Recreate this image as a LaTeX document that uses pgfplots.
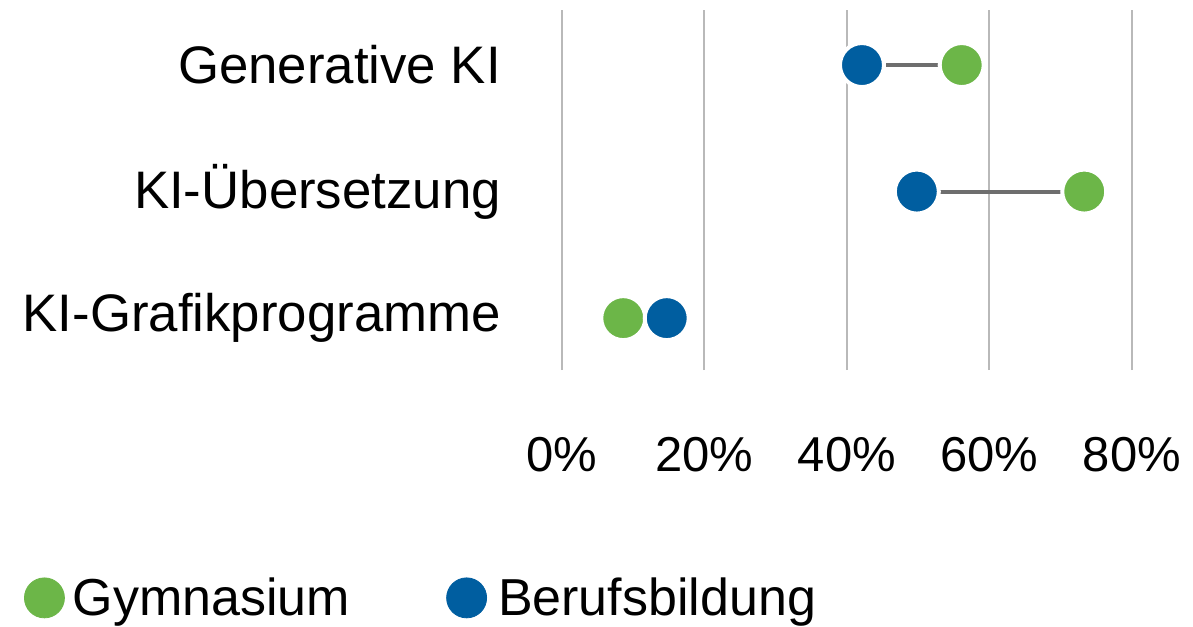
\documentclass[border=0pt]{standalone}
\usepackage{pgfplots}
\pgfplotsset{compat=1.18}
\usepackage{fontspec}
\setmainfont{Liberation Sans}
\definecolor{gym}{RGB}{108,182,72}
\definecolor{bb}{RGB}{0,94,160}
\definecolor{conn}{RGB}{110,110,110}
\definecolor{gridc}{RGB}{185,185,185}
\begin{document}
\begin{tikzpicture}
\begin{axis}[
  name=ax,
  scale only axis,
  width=285pt, height=180pt,
  xmin=0, xmax=80, ymin=-0.41, ymax=2.435,
  axis line style={draw=none},
  xtick={0,20,40,60,80},
  ytick={0,1,2},
  yticklabels={KI-Grafikprogramme,KI-Übersetzung,Generative KI},
  major tick length=0pt,
  xmajorgrids,
  grid style={gridc, line width=1pt},
  xticklabel={\pgfmathprintnumber{\tick}\%},
  /pgf/number format/assume math mode=true,
  xticklabel style={font=\fontsize{24.5}{30}\selectfont, yshift=-30pt},
  yticklabel style={font=\fontsize{26.4}{31}\selectfont, xshift=-27pt},
  clip=false,
  legend style={at={(axis description cs:-0.955,-0.633)}, anchor=west, draw=none,
    font=\fontsize{26}{31}\selectfont, legend columns=2,
    /tikz/every even column/.append style={column sep=46pt}},
]
\addplot[conn, line width=2pt, forget plot] coordinates {(42.1,2) (56.1,2)};
\addplot[conn, line width=2pt, forget plot] coordinates {(49.8,1) (73.3,1)};
\addplot[only marks, mark=*, mark size=11pt, mark options={fill=gym, draw=white, line width=2pt},
  legend image code/.code={\fill[gym] (0pt,0pt) circle (10pt); \path (12pt,0pt);}] coordinates {
  (56.1,2) (73.3,1) (8.6,0)
};
\addlegendentry{Gymnasium}
\addplot[only marks, mark=*, mark size=11pt, mark options={fill=bb, draw=white, line width=2pt},
  legend image code/.code={\fill[bb] (0pt,0pt) circle (10pt); \path (13.5pt,0pt);}] coordinates {
  (42.1,2) (49.8,1) (14.7,0)
};
\addlegendentry{Berufsbildung}
\end{axis}
\pgfresetboundingbox
\useasboundingbox ([shift={(-281pt,-128pt)}]ax.south west) rectangle ([shift={(30.5pt,5pt)}]ax.north east);
\end{tikzpicture}
\end{document}
